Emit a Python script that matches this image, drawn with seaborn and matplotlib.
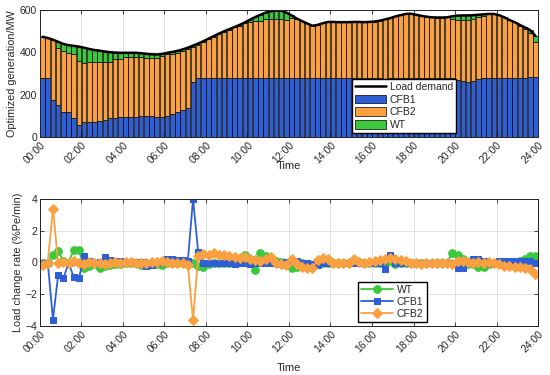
import numpy as np
import pandas as pd
import seaborn as sns
import matplotlib.pyplot as plt

# 15-min slots over one day (96 bars)
time_labels = ["00:00", "02:00", "04:00", "06:00", "08:00", "10:00", "12:00",
               "14:00", "16:00", "18:00", "20:00", "22:00", "24:00"]

load_demand = [474, 468, 460, 450, 440, 434, 431, 427, 422, 416, 411, 408, 404, 401, 399, 398,
               398, 398, 398, 396, 393, 391, 390, 392, 398, 402, 407, 414, 422, 432, 442, 453,
               465, 477, 489, 500, 510, 520, 530, 542, 555, 567, 578, 588, 595, 598, 598, 588,
               575, 560, 548, 537, 526, 530, 538, 544, 544, 543, 543, 543, 544, 544, 543, 544,
               546, 550, 556, 562, 570, 576, 582, 583, 578, 573, 569, 566, 565, 565, 566, 571,
               574, 575, 575, 576, 578, 580, 582, 582, 576, 566, 553, 543, 530, 518, 505, 478]

cfb1 = [280, 280, 175, 152, 120, 118, 88, 57, 70, 72, 72, 75, 82, 88, 90, 93,
        95, 96, 96, 98, 100, 97, 94, 95, 100, 108, 118, 127, 137, 262, 280, 280,
        280, 280, 280, 280, 280, 280, 280, 280, 280, 280, 280, 280, 280, 280, 280, 278,
        280, 281, 280, 280, 280, 279, 280, 280, 280, 280, 280, 280, 280, 280, 280, 280,
        280, 280, 274, 281, 280, 280, 280, 280, 280, 280, 280, 280, 280, 280, 280, 280,
        270, 265, 262, 265, 272, 280, 280, 280, 280, 281, 281, 281, 281, 281, 282, 282]

cfb2 = [194, 188, 285, 268, 285, 281, 303, 300, 280, 284, 284, 281, 272, 268, 277, 277,
        281, 282, 282, 280, 275, 278, 281, 287, 290, 286, 281, 279, 277, 162, 154, 167,
        181, 194, 207, 218, 228, 238, 247, 257, 263, 267, 270, 276, 280, 280, 278, 275,
        285, 279, 268, 257, 246, 251, 258, 264, 264, 263, 263, 263, 264, 264, 263, 264,
        266, 270, 282, 281, 290, 296, 302, 303, 298, 293, 289, 286, 285, 285, 286, 276,
        282, 286, 291, 291, 294, 294, 300, 302, 296, 285, 272, 262, 246, 231, 211, 166]

wt = [0, 0, 0, 30, 35, 35, 40, 70, 72, 60, 55, 52, 50, 45, 32, 28,
      22, 20, 20, 18, 18, 16, 15, 10, 8, 8, 8, 8, 8, 8, 8, 6,
      4, 3, 2, 2, 2, 2, 3, 5, 12, 20, 28, 32, 35, 38, 40, 35,
      10, 0, 0, 0, 0, 0, 0, 0, 0, 0, 0, 0, 0, 0, 0, 0,
      0, 0, 0, 0, 0, 0, 0, 0, 0, 0, 0, 0, 0, 0, 0, 15,
      22, 24, 22, 20, 12, 6, 2, 0, 0, 0, 0, 0, 3, 6, 12, 30]

rate_wt = [0.0, 0.0, 0.5, 0.75, 0.1, 0.0, 0.8, 0.8, -0.35, -0.2, -0.1, -0.35, -0.2, -0.15, -0.1, -0.1,
           -0.05, -0.05, 0.0, -0.15, 0.0, -0.05, -0.1, -0.15, -0.05, 0.0, 0.0, 0.0, 0.0, 0.0, -0.2, -0.3,
           -0.1, -0.05, -0.05, 0.0, 0.0, 0.05, 0.1, 0.5, 0.2, -0.45, 0.6, 0.4, 0.15, 0.1, 0.05, -0.15,
           -0.35, -0.3, -0.05, -0.2, -0.25, -0.1, 0.0, 0.0, 0.0, 0.0, 0.0, 0.0, 0.1, 0.05, 0.0, -0.05,
           0.0, 0.0, -0.05, 0.1, -0.1, 0.0, 0.0, 0.0, 0.0, -0.05, 0.0, 0.0, 0.0, 0.0, 0.0, 0.6,
           0.5, 0.2, -0.1, -0.1, -0.3, -0.3, -0.1, 0.0, 0.0, 0.0, 0.0, 0.0, 0.1, 0.25, 0.4, 0.4]

rate_cfb1 = [0.0, 0.0, -3.6, -0.8, -1.0, -0.05, -0.9, -1.0, 0.4, 0.1, 0.0, 0.05, 0.35, 0.15, 0.1, 0.1,
             0.05, 0.05, 0.0, 0.05, -0.2, -0.15, 0.0, 0.05, 0.2, 0.2, 0.15, 0.15, 0.1, 4.0, 0.65, 0.0,
             -0.05, 0.0, 0.0, -0.05, 0.0, -0.1, 0.0, 0.0, -0.1, 0.0, 0.0, 0.0, 0.0, 0.0, -0.1, 0.05,
             0.15, 0.1, 0.0, -0.05, -0.1, -0.15, 0.0, 0.0, 0.0, 0.0, 0.0, 0.0, 0.0, 0.0, 0.0, 0.0,
             0.0, 0.0, -0.4, 0.45, 0.0, 0.0, 0.0, 0.0, 0.0, 0.0, 0.0, 0.0, 0.0, 0.0, 0.0, 0.0,
             -0.35, -0.35, 0.05, 0.2, 0.2, 0.1, 0.0, 0.0, 0.1, 0.1, 0.1, 0.1, 0.1, 0.1, 0.1, 0.0]

rate_cfb2 = [-0.15, 0.0, 3.4, 0.0, 0.05, 0.0, 0.1, 0.0, -0.1, 0.05, 0.0, -0.05, -0.1, -0.05, 0.05, 0.0,
             0.05, 0.05, 0.0, -0.05, -0.05, 0.05, 0.05, 0.1, 0.05, -0.05, -0.05, -0.05, -0.15, -3.6, 0.4, 0.55,
             0.5, 0.6, 0.45, 0.5, 0.4, 0.35, 0.3, 0.35, 0.2, 0.15, 0.1, 0.2, 0.35, 0.0, -0.1, -0.15,
             0.2, -0.1, -0.3, -0.35, -0.35, 0.15, 0.3, 0.2, 0.0, 0.0, -0.05, 0.0, 0.2, 0.05, 0.0, 0.05,
             0.1, 0.15, 0.2, 0.3, 0.2, 0.15, 0.1, 0.0, -0.05, -0.1, -0.05, -0.05, 0.0, 0.0, 0.0, -0.1,
             0.1, 0.1, 0.05, 0.0, 0.05, 0.0, 0.05, 0.0, -0.1, -0.2, -0.2, -0.3, -0.3, -0.35, -0.4, -0.75]

blue = "#2E5FD6"
orange = "#FBA040"
green = "#3CC83C"

sns.set_style("ticks")
plt.rcParams['font.family'] = ['Liberation Sans', 'DejaVu Sans']

slot = list(range(len(load_demand)))
below_wt = list(np.array(cfb1) + np.array(cfb2))

fig = plt.figure(figsize=(5.5, 3.75), dpi=100)
ax1 = fig.add_axes([0.0727, 0.635, 0.9055, 0.338])
ax2 = fig.add_axes([0.0727, 0.131, 0.9055, 0.338])

# stacked generation bars
bar_kw = dict(width=0.88, edgecolor="black", linewidth=0.5, saturation=1, ax=ax1)
sns.barplot(x=slot, y=cfb1, color=blue, label="CFB1", **bar_kw)
sns.barplot(x=slot, y=cfb2, bottom=cfb1, color=orange, label="CFB2", **bar_kw)
sns.barplot(x=slot, y=wt, bottom=below_wt, color=green, label="WT", **bar_kw)
sns.lineplot(x=slot, y=load_demand, color="black", linewidth=1.8, ax=ax1, label="Load demand")

ticks = [-0.5 + 8 * i for i in range(13)]
for ax in (ax1, ax2):
    ax.set_xlim(-0.5, 95.5)
    ax.set_xticks(ticks)
    ax.set_xticklabels(time_labels, rotation=45, ha="right", rotation_mode="anchor", fontsize=7.5)
    ax.tick_params(direction="in", top=True, right=True, length=3, width=0.6, labelsize=7.5, pad=2)
    ax.grid(True, color="#DDDDDD", linewidth=0.6)
    ax.set_axisbelow(True)
    for s in ax.spines.values():
        s.set_linewidth(0.7)
        s.set_color("#222222")
    ax.set_xlabel("Time", fontsize=8)

ax1.xaxis.set_label_coords(0.5, -0.19)
ax2.xaxis.set_label_coords(0.5, -0.29)

ax1.set_ylim(0, 600)
ax1.set_yticks([0, 200, 400, 600])
ax1.set_ylabel("Optimized generation/MW", fontsize=7.8, labelpad=2)

h, l = ax1.get_legend_handles_labels()
order = [l.index(k) for k in ["Load demand", "CFB1", "CFB2", "WT"]]
ax1.legend([h[i] for i in order], [l[i] for i in order], loc="lower left",
           bbox_to_anchor=(0.627, 0.031), borderaxespad=0, fancybox=False, framealpha=1,
           edgecolor="black", fontsize=7.5, handlelength=2.9, handleheight=0.9,
           labelspacing=0.25, handletextpad=0.4, borderpad=0.3)

# load change rates
line_kw = dict(linewidth=1.3, ax=ax2)
sns.lineplot(x=slot, y=rate_wt, color=green, marker="o", markersize=5.5, markeredgecolor=green, label="WT", **line_kw)
sns.lineplot(x=slot, y=rate_cfb1, color=blue, marker="s", markersize=5, markeredgecolor=blue, label="CFB1", **line_kw)
sns.lineplot(x=slot, y=rate_cfb2, color=orange, marker="D", markersize=5, markeredgecolor=orange, label="CFB2", **line_kw)

ax2.set_ylim(-4, 4)
ax2.set_yticks([-4, -2, 0, 2, 4])
ax2.set_ylabel("Load change rate (%Pe/min)", fontsize=7.8, labelpad=2)
ax2.legend(loc="lower left", bbox_to_anchor=(0.639, 0.031), borderaxespad=0, fancybox=False,
           framealpha=1, edgecolor="black", fontsize=7.5, handlelength=3.0,
           labelspacing=0.2, handletextpad=0.4, borderpad=0.3)

fig.savefig("out.png", dpi=100)
